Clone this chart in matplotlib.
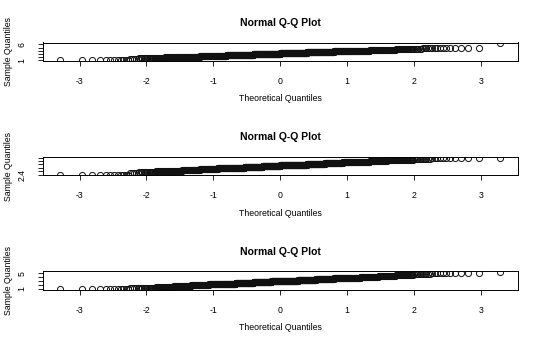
import matplotlib
matplotlib.use("Agg")
import matplotlib.pyplot as plt
import numpy as np
from statistics import NormalDist

# sorted sample values, stored as levels plus the number of points at each level
# (flat left tail, steady middle band, flat right tail, one top outlier)
band_half = [5, 6, 8, 11, 13, 16, 20, 24, 28, 32, 36, 41, 45, 48, 50, 52, 53]
point_counts = [12] + band_half + band_half[::-1] + [11, 1]

top_levels = [1.0,
              1.45, 1.55, 1.65, 1.75, 1.85, 1.95, 2.05, 2.15, 2.25, 2.35, 2.45, 2.55,
              2.65, 2.75, 2.85, 2.95, 3.05, 3.15, 3.25, 3.35, 3.45, 3.55, 3.65, 3.75,
              3.85, 3.95, 4.05, 4.15, 4.25, 4.35, 4.45, 4.55, 4.65, 4.75,
              4.95, 6.4]
mid_levels = [2.4,
              2.51, 2.535, 2.56, 2.585, 2.61, 2.635, 2.66, 2.685, 2.71, 2.735, 2.76, 2.785,
              2.81, 2.835, 2.86, 2.885, 2.91, 2.935, 2.96, 2.985, 3.01, 3.035, 3.06, 3.085,
              3.11, 3.135, 3.16, 3.185, 3.21, 3.235, 3.26, 3.285, 3.31, 3.335,
              3.38, 3.40]
bot_levels = [1.0,
              1.14, 1.25, 1.36, 1.47, 1.58, 1.69, 1.80, 1.91, 2.02, 2.13, 2.24, 2.35,
              2.46, 2.57, 2.68, 2.79, 2.90, 3.01, 3.12, 3.23, 3.34, 3.45, 3.56, 3.67,
              3.78, 3.89, 4.00, 4.11, 4.22, 4.33, 4.44, 4.55, 4.66, 4.77,
              4.95, 5.3]

x_ticks = [-3, -2, -1, 0, 1, 2, 3]

top_yticks = [1, 2, 3, 4, 5, 6]
top_ylabels = ["1", "", "", "", "", "6"]
mid_yticks = [2.4, 2.6, 2.8, 3.0, 3.2, 3.4]
mid_ylabels = ["2.4", "", "", "", "", ""]
bot_yticks = [1, 2, 3, 4, 5]
bot_ylabels = ["1", "", "", "", "5"]

TITLE = "Normal Q-Q Plot"
XLABEL = "Theoretical Quantiles"
YLABEL = "Sample Quantiles"

plt.rcParams["font.family"] = ["Liberation Sans", "DejaVu Sans"]


def qq_panel(fig, row, levels, yticks, ylabels):
    # pixel geometry of the R-style panel box
    W, H = 540.0, 343.0
    top_px = 42.5 + row * 114.4
    h_px = 18.3
    ax = fig.add_axes([42.5 / W, 1 - (top_px + h_px) / H, 475.5 / W, h_px / H])

    sample = np.sort(np.repeat(levels, point_counts))
    n = len(sample)
    theo = np.array([NormalDist().inv_cdf((i - 0.5) / n) for i in range(1, n + 1)])

    ax.plot(theo, sample, linestyle="none", marker="o", markersize=4.4,
            markerfacecolor="none", markeredgecolor="#111111", markeredgewidth=0.7)

    # R pads both ranges by 4%
    xr = theo.max() - theo.min()
    ax.set_xlim(theo.min() - 0.04 * xr, theo.max() + 0.04 * xr)
    yr = sample.max() - sample.min()
    ax.set_ylim(sample.min() - 0.04 * yr, sample.max() + 0.04 * yr)

    ax.set_xticks(x_ticks)
    ax.set_xticklabels([str(t) for t in x_ticks])
    ax.set_yticks(yticks)
    ax.set_yticklabels(ylabels, rotation=90, va="center")
    ax.tick_params(axis="both", length=3.6, width=0.6, pad=8, labelsize=6.3, colors="black")

    for s in ax.spines.values():
        s.set_linewidth(0.7)
        s.set_color("black")

    ax.set_title(TITLE, fontsize=7.5, fontweight="bold", pad=12)
    ax.set_xlabel(XLABEL, fontsize=6.3)
    ax.xaxis.set_label_coords(0.5, -1.82)
    ax.set_ylabel(YLABEL, fontsize=6.3)
    ax.yaxis.set_label_coords(-0.062, 0.5)
    return ax


def main():
    fig = plt.figure(figsize=(5.4, 3.43), dpi=100)
    qq_panel(fig, 0, top_levels, top_yticks, top_ylabels)
    qq_panel(fig, 1, mid_levels, mid_yticks, mid_ylabels)
    qq_panel(fig, 2, bot_levels, bot_yticks, bot_ylabels)
    fig.savefig("out.png", dpi=100, facecolor="white")


if __name__ == "__main__":
    main()
